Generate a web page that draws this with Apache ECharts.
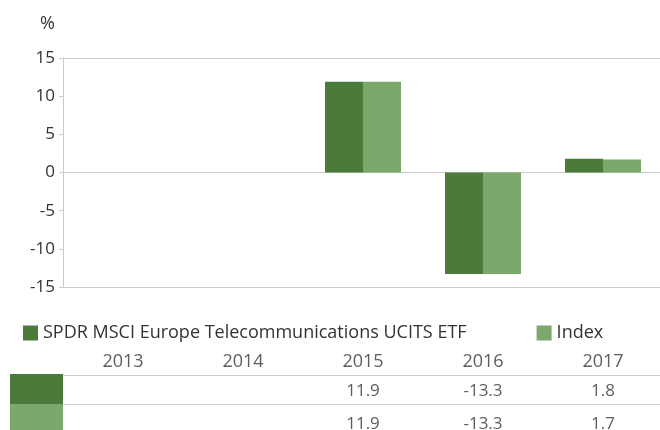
<!DOCTYPE html>
<html><head><meta charset="utf-8">
<script src="https://cdn.jsdelivr.net/npm/echarts@6/dist/echarts.min.js"></script>
<style>html,body{margin:0;padding:0;background:#fff}#c{width:660px;height:430px}</style>
</head><body><div id="c"></div>
<script>
const categories = ['2013','2014','2015','2016','2017'];
const etfValues = [null, null, 11.9, -13.3, 1.8];
const indexValues = [null, null, 11.9, -13.3, 1.7];
const yTicks = [-15, -10, -5, 0, 5, 10, 15];
const seriesNames = ['SPDR MSCI Europe Telecommunications UCITS ETF', 'Index'];

const DARK = '#4a7b3a', LIGHT = '#7aa96b', LINE = '#cccccc', TXT = '#333333';
const FONT = 'Open Sans';

const chart = echarts.init(document.getElementById('c'), null, {renderer: 'canvas'});

function tableRow(vals, row) {
  return vals.map((v, i) => v === null ? null : { value: [categories[i], row], label: { formatter: String(v) } }).filter(d => d);
}

const option = {
  animation: false,
  textStyle: { fontFamily: FONT },
  legend: {
    left: 18, top: 319, itemWidth: 15, itemHeight: 15, itemGap: 70,
    icon: 'rect',
    textStyle: { fontSize: 18, color: TXT, fontFamily: FONT },
    data: seriesNames
  },
  grid: [
    { left: 63, width: 600, top: 58, height: 229, outerBoundsMode: 'none' },
    { left: 63, width: 600, top: 346, height: 87, outerBoundsMode: 'none' }
  ],
  xAxis: [
    { type: 'category', data: categories, gridIndex: 0,
      axisLine: { onZero: true, lineStyle: { color: LINE } }, axisTick: { show: false }, axisLabel: { show: false } },
    { type: 'category', data: categories, gridIndex: 0, position: 'top',
      axisLine: { onZero: false, lineStyle: { color: LINE } }, axisTick: { show: false }, axisLabel: { show: false } },
    { type: 'category', data: categories, gridIndex: 0, position: 'bottom',
      axisLine: { onZero: false, lineStyle: { color: LINE } }, axisTick: { show: false }, axisLabel: { show: false } },
    { type: 'category', data: categories, gridIndex: 1, show: false }
  ],
  yAxis: [
    { type: 'value', gridIndex: 0, min: yTicks[0], max: yTicks[yTicks.length - 1], interval: 5,
      name: '%', nameLocation: 'end', nameGap: 25,
      nameTextStyle: { fontSize: 18, color: TXT, align: 'right', padding: [0, 8, 0, 0] },
      axisLine: { show: true, lineStyle: { color: LINE } },
      axisTick: { show: true, length: 4, lineStyle: { color: LINE } },
      axisLabel: { fontSize: 17, color: TXT, margin: 8 },
      splitLine: { show: false } },
    { type: 'value', gridIndex: 1, min: 0, max: 3, inverse: true, show: false }
  ],
  series: [
    { name: seriesNames[0], type: 'bar', xAxisIndex: 0, yAxisIndex: 0, data: etfValues,
      barWidth: 38, barGap: '0%', itemStyle: { color: DARK } },
    { name: seriesNames[1], type: 'bar', xAxisIndex: 0, yAxisIndex: 0, data: indexValues,
      barWidth: 38, barGap: '0%', itemStyle: { color: LIGHT } },
    { type: 'scatter', xAxisIndex: 3, yAxisIndex: 1, symbolSize: 0, silent: true,
      data: categories.map(c => ({ value: [c, 0.55], label: { formatter: c } })),
      label: { show: true, position: 'inside', fontSize: 18, color: TXT },
      markLine: { silent: true, symbol: 'none', label: { show: false },
        lineStyle: { color: LINE, type: 'solid', width: 1 },
        data: [{ yAxis: 1 }, { yAxis: 2 }] } },
    { type: 'scatter', xAxisIndex: 3, yAxisIndex: 1, symbolSize: 0, silent: true,
      data: tableRow(etfValues, 1.55),
      label: { show: true, position: 'inside', fontSize: 17, color: TXT } },
    { type: 'scatter', xAxisIndex: 3, yAxisIndex: 1, symbolSize: 0, silent: true,
      data: tableRow(indexValues, 2.68),
      label: { show: true, position: 'inside', fontSize: 17, color: TXT } }
  ],
  graphic: [
    { type: 'rect', left: 10, top: 374, shape: { width: 53, height: 30 }, style: { fill: DARK } },
    { type: 'rect', left: 10, top: 404, shape: { width: 53, height: 26 }, style: { fill: LIGHT } }
  ]
};
chart.setOption(option);
</script></body></html>
